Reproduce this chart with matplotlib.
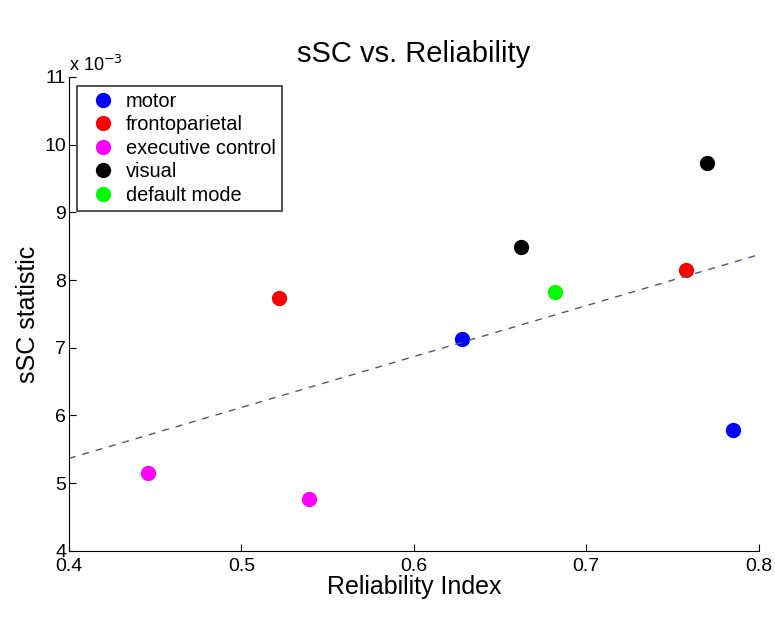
import numpy as np
import matplotlib.pyplot as plt

plt.rcParams['font.family'] = ['Liberation Sans', 'DejaVu Sans']

# sSC statistic values are in units of 1e-3
networks = ['motor', 'frontoparietal', 'executive control', 'visual', 'default mode']
colors = ['#0000ff', '#ff0000', '#ff00ff', '#000000', '#00ff00']
reliab = [[0.628, 0.785], [0.522, 0.758], [0.446, 0.539], [0.662, 0.770], [0.682]]
ssc = [[7.13, 5.79], [7.74, 8.15], [5.15, 4.77], [8.49, 9.73], [7.83]]
xticks = [0.4, 0.5, 0.6, 0.7, 0.8]
yticks = [4, 5, 6, 7, 8, 9, 10, 11]

fig = plt.figure(figsize=(7.75, 6.31), dpi=100)
ax = fig.add_axes([0.089, 0.127, 0.890, 0.751])

for name, c, xs, ys in zip(networks, colors, reliab, ssc):
    ax.plot(xs, ys, 'o', color=c, ms=11, mec='none', label=name)

# linear fit over all points
allx = np.concatenate([np.array(v) for v in reliab])
ally = np.concatenate([np.array(v) for v in ssc])
p = np.polyfit(allx, ally, 1)
xf = np.linspace(0.4, 0.8, 50)
ax.plot(xf, np.polyval(p, xf), '--', color='#50557f', lw=1, dashes=(5, 5))

ax.set_xlim(0.4, 0.8)
ax.set_ylim(4, 11)
ax.set_xticks(xticks)
ax.set_yticks(yticks)
ax.set_xticklabels([str(t) for t in xticks])
ax.spines['top'].set_visible(False)
ax.spines['right'].set_visible(False)
ax.tick_params(direction='in', labelsize=14, length=5, pad=2)
ax.tick_params(axis='x', pad=5)
ax.set_xlabel('Reliability Index', fontsize=18, labelpad=0)
ax.set_ylabel('sSC statistic', fontsize=18, labelpad=3)
ax.set_title('sSC vs. Reliability', fontsize=21, pad=11)
ax.text(0.0, 1.005, r'x 10$^{-3}$', transform=ax.transAxes, fontsize=13,
        ha='left', va='bottom')

leg = ax.legend(loc='upper left', bbox_to_anchor=(0.0116, 0.981), borderaxespad=0,
                fontsize=14.4, frameon=True, fancybox=False, borderpad=0.3,
                labelspacing=0.22, handlelength=2, handletextpad=0.15, numpoints=1)
leg.get_frame().set_edgecolor('#333333')
leg.get_frame().set_linewidth(1.2)
leg.get_frame().set_alpha(1)

plt.savefig('out.png', dpi=100)
